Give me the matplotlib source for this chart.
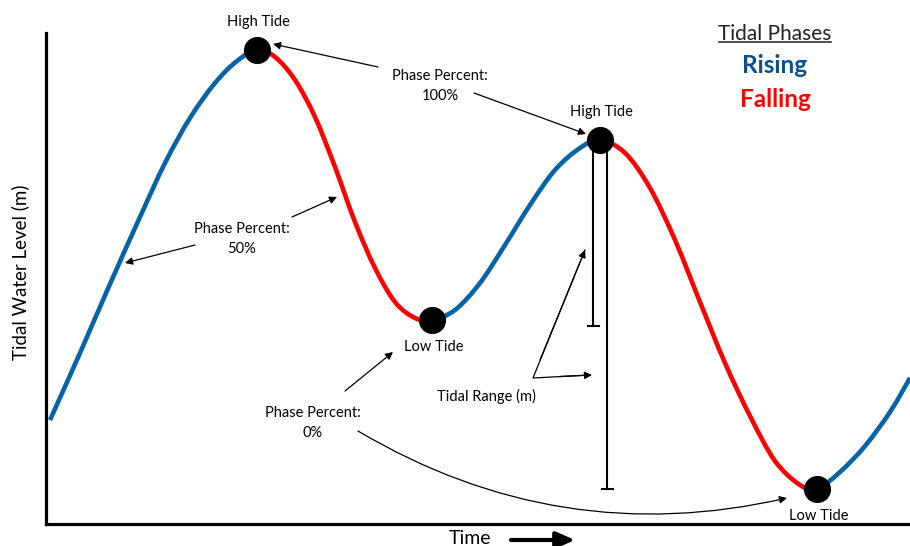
import matplotlib
matplotlib.use("Agg")
import matplotlib.pyplot as plt
from matplotlib.lines import Line2D
from matplotlib.path import Path
from matplotlib.patches import PathPatch
from matplotlib.transforms import IdentityTransform

# tide curve (time in arbitrary units, level in arbitrary units)
time = [50, 80, 110, 140, 165, 190, 215, 237, 257,
        275, 295, 315, 335, 355, 375, 395, 415, 432,
        455, 480, 505, 530, 555, 580, 600,
        625, 650, 675, 700, 725, 750, 775, 800, 817,
        840, 865, 890, 910]
level = [126, 193, 262, 329, 383, 428, 463, 485, 496,
         489, 466, 429, 379, 324, 278, 244, 228, 226,
         236, 263, 301, 341, 376, 398, 406,
         393, 358, 306, 244, 183, 130, 85, 61, 57,
         74, 100, 134, 168]

# indices of turning points: start, high, low, high, low, end
turn_idx = [0, 8, 17, 24, 33, 37]
turn_labels = [None, "High Tide", "Low Tide", "High Tide", "Low Tide", None]

RISE = "#0563a6"
FALL = "#ff0000"
FONT = ["Lato", "DejaVu Sans"]


def smooth_path(a, b):
    # bezier path through the read points a..b (catmull-rom handles)
    n = len(time)
    pts = list(zip(time, level))
    verts = [pts[a]]
    codes = [Path.MOVETO]
    for i in range(a, b):
        p0 = pts[max(i - 1, 0)]
        p1 = pts[i]
        p2 = pts[i + 1]
        p3 = pts[min(i + 2, n - 1)]
        c1 = (p1[0] + (p2[0] - p0[0]) / 6, p1[1] + (p2[1] - p0[1]) / 6)
        c2 = (p2[0] - (p3[0] - p1[0]) / 6, p2[1] - (p3[1] - p1[1]) / 6)
        verts += [c1, c2, p2]
        codes += [Path.CURVE4] * 3
    return Path(verts, codes)


def draw_curve(ax):
    for k in range(len(turn_idx) - 1):
        a, b = turn_idx[k], turn_idx[k + 1]
        rising = level[b] > level[a]
        ax.add_patch(PathPatch(smooth_path(a, b), fill=False,
                               edgecolor=RISE if rising else FALL,
                               lw=3.3, capstyle="butt", zorder=2))
    for i, lab in zip(turn_idx, turn_labels):
        if lab is None:
            continue
        ax.plot(time[i], level[i], "o", color="black", ms=18.5, zorder=4)
        if lab == "High Tide":
            ax.text(time[i] + 1, level[i] + 28, lab, ha="center", va="center", fontsize=10.5)
        else:
            ax.text(time[i] + 2, level[i] - 27, lab, ha="center", va="center", fontsize=10.5)


def arrow(ax, tail, head, rad=0.0):
    ax.annotate("", xy=head, xytext=tail,
                arrowprops=dict(arrowstyle="-|>", color="black", lw=0.9,
                                mutation_scale=11, shrinkA=0, shrinkB=0,
                                connectionstyle=f"arc3,rad={rad}"),
                annotation_clip=False)


def draw_notes(ax):
    ax.text(440, 460, "Phase Percent:\n100%", ha="center", va="center",
            fontsize=10.5, linespacing=1.55)
    arrow(ax, (378, 479), (273, 502))
    arrow(ax, (474, 453), (586, 412))

    ax.text(242, 307, "Phase Percent:\n50%", ha="center", va="center",
            fontsize=10.5, linespacing=1.55)
    arrow(ax, (195, 301), (125, 283))
    arrow(ax, (292, 329), (337, 349))

    ax.text(313, 123, "Phase Percent:\n0%", ha="center", va="center",
            fontsize=10.5, linespacing=1.55)
    arrow(ax, (345, 155), (393, 194))
    arrow(ax, (358, 115), (787, 48), rad=0.2)

    # tidal range bars from high tide down to the two lows
    hi = level[turn_idx[3]]
    for x, lo in [(593, level[turn_idx[2]] - 6), (607, level[turn_idx[4]])]:
        ax.plot([x, x], [hi, lo], color="black", lw=1.5, zorder=3)
        ax.plot([x - 5.5, x + 5.5], [lo, lo], color="black", lw=1.5, zorder=3)
    ax.text(486, 150, "Tidal Range (m)", ha="center", va="center", fontsize=10.5)
    ax.plot([585, 533, 590], [296, 168, 171], color="black", lw=0.9)
    arrow(ax, (540, 186), (585, 296))
    arrow(ax, (560, 169.5), (592, 171))

    # key
    fig = ax.figure
    t = ax.text(775, 512, "Tidal Phases", ha="center", va="center", fontsize=15, color="#222222")
    ax.text(775, 481, "Rising", ha="center", va="center", fontsize=17.5,
            fontweight="bold", color="#0d4f8b")
    ax.text(775, 447, "Falling", ha="center", va="center", fontsize=17.5,
            fontweight="bold", color=FALL)
    fig.canvas.draw()
    bb = t.get_window_extent()
    fig.add_artist(Line2D([bb.x0 + 1, bb.x1 - 1], [bb.y0 + 2, bb.y0 + 2],
                          transform=IdentityTransform(), color="#222222", lw=1.1))


def main():
    plt.rcParams["font.family"] = FONT
    fig = plt.figure(figsize=(9.1, 5.46), dpi=100)
    ax = fig.add_axes([46 / 910, 22 / 546, 864 / 910, 491 / 546])
    ax.set_xlim(46, 910)
    ax.set_ylim(22, 513)
    for s in ["top", "right"]:
        ax.spines[s].set_visible(False)
    for s in ["left", "bottom"]:
        ax.spines[s].set_linewidth(2.3)
        ax.spines[s].set_color("black")
    ax.set_xticks([])
    ax.set_yticks([])

    draw_curve(ax)
    draw_notes(ax)

    fig.text(20 / 910, 1 - 272 / 546, "Tidal Water Level (m)", rotation=90,
             ha="center", va="center", fontsize=13.5)
    fig.text(470 / 910, 1 - 539 / 546, "Time", ha="center", va="center", fontsize=14)
    ax.annotate("", xy=(575, 6), xytext=(511, 6),
                arrowprops=dict(arrowstyle="-|>,head_length=0.8,head_width=0.35",
                                color="black", lw=3, mutation_scale=14,
                                shrinkA=0, shrinkB=0),
                annotation_clip=False)

    fig.savefig("out.png", dpi=100)
    plt.close(fig)


if __name__ == "__main__":
    main()
